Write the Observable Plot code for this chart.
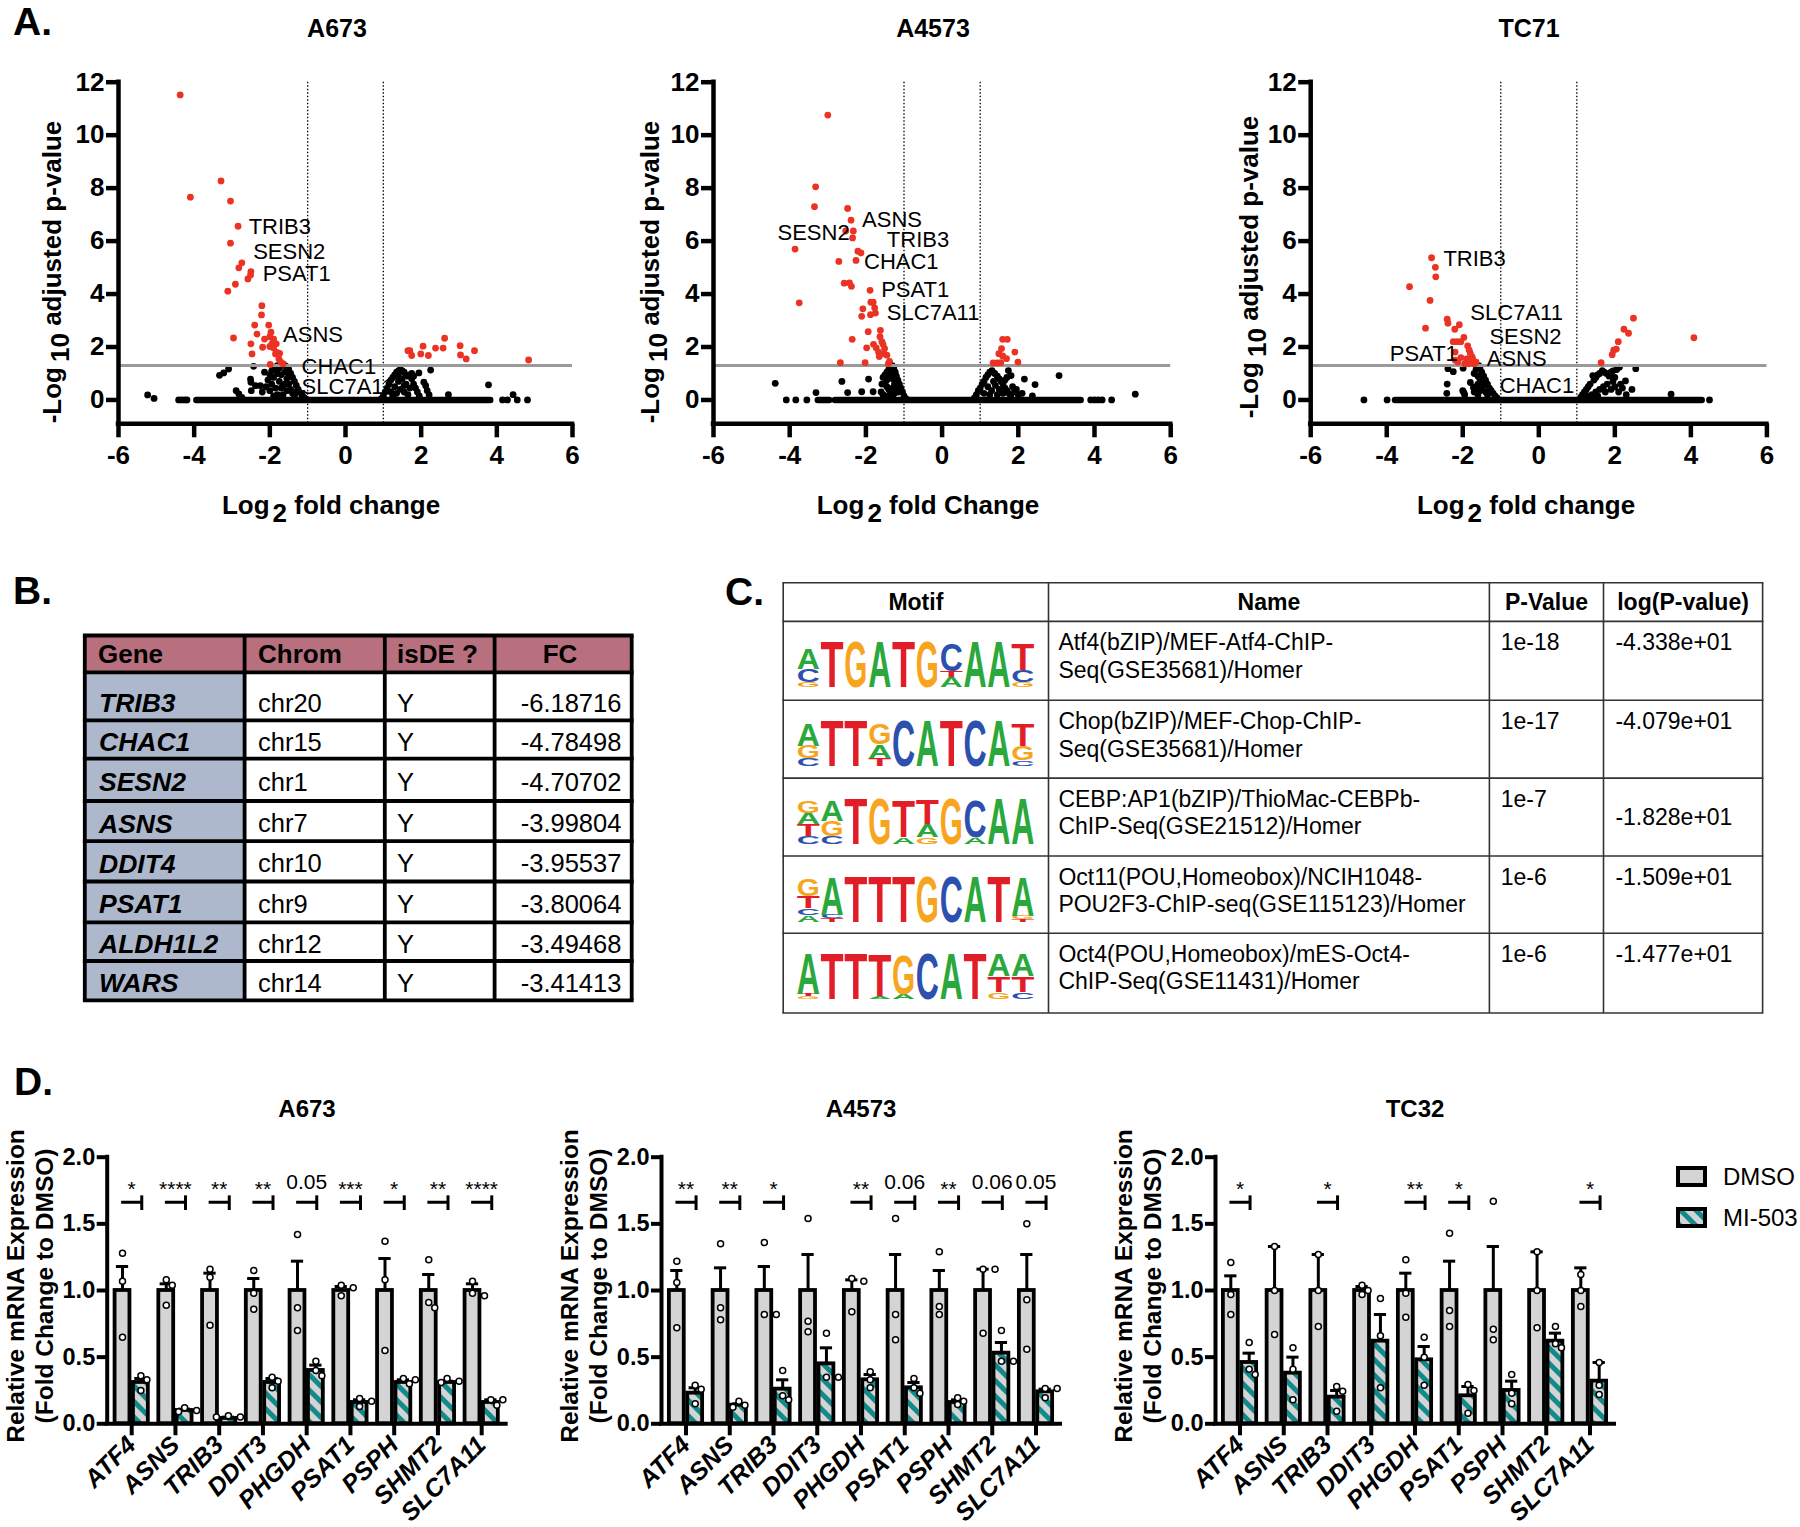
<!DOCTYPE html>
<html><head><meta charset="utf-8">
<script src="https://cdn.jsdelivr.net/npm/d3@7"></script>
<script src="https://cdn.jsdelivr.net/npm/@observablehq/plot@0.6"></script>
<style>
html,body{margin:0;padding:0;background:#fff;}
body{width:1800px;height:1527px;position:relative;overflow:hidden;font-family:'Liberation Sans',Arial,Helvetica,sans-serif;}
</style></head><body>
<svg width="0" height="0" style="position:absolute"><defs>
<pattern id="hatch" patternUnits="userSpaceOnUse" width="11" height="11" patternTransform="rotate(-45)"><rect width="11" height="11" fill="#d4d4d4"/><rect width="5" height="11" fill="#12898b"/></pattern>
</defs></svg>
<script>
// ================= DATA =================
// Panel A volcano plots: [log2FC, -log10 adj p]
const a673Red = [[-4.37,11.52],[-3.29,8.27],[-4.10,7.66],[-3.04,7.51],[-2.84,6.56],[-3.04,5.92],[-2.74,5.18],[-2.82,4.99],[-2.50,4.85],[-2.51,4.72],[-2.58,4.57],[-2.91,4.37],[-3.11,4.11],[-2.21,3.56],[-2.22,3.21],[-2.40,2.83],[-2.03,2.83],[-2.34,2.49],[-1.97,2.56],[-2.96,2.34],[-2.00,2.39],[-2.14,2.30],[-1.90,2.30],[-1.94,2.14],[-1.83,2.12],[-2.50,2.12],[-2.19,1.99],[-2.00,2.02],[-1.90,1.96],[-1.81,1.80],[-2.47,1.74],[-1.74,1.76],[-1.85,1.74],[-1.76,1.55],[-1.70,1.42],[-1.99,1.34],[-1.65,1.36],
 [1.70,1.86],[1.65,1.86],[1.75,1.68],[2.05,2.03],[1.99,1.74],[2.19,1.68],[2.38,1.96],[2.58,1.96],[2.62,2.33],[3.03,2.05],[3.04,1.70],[3.19,1.55],[3.41,1.86],[4.84,1.51]];
const a673Black = [[-5.23,0.19],[-5.06,0.06],[-4.41,0],[-4.33,0],[-4.25,0],[-4.19,0],
 [-3.33,0.93],[-3.22,1.02],[-3.09,1.17],[-2.43,1.27],[-2.51,0.79],[-2.50,0.67],[-2.89,0.35],[-2.82,0.23],[-2.74,0.10],[-2.49,0.35],[-2.38,0.54],[-2.25,0.54],[-2.14,1.05],
 [-2.2,0.3],[-2.1,0.5],[-2.05,0.75],[-2.0,0.95],[-1.95,1.1],[-1.9,1.2],[-1.85,1.25],[-1.8,1.3],[-1.75,1.2],[-1.7,1.3],[-1.65,1.35],[-1.6,1.3],[-1.55,1.25],[-1.5,1.15],[-1.45,1.0],[-1.4,0.85],[-1.35,0.7],[-1.3,0.55],[-1.25,0.4],[-1.2,0.28],[-1.15,0.18],[-1.1,0.1],[-1.05,0.04],
 [-2.0,0.35],[-1.95,0.6],[-1.9,0.85],[-1.85,0.45],[-1.8,1.0],[-1.75,0.7],[-1.7,0.95],[-1.65,0.55],[-1.6,1.05],[-1.55,0.8],[-1.5,0.6],[-1.45,0.4],[-1.4,0.25],[-1.55,0.35],[-1.65,0.2],[-1.8,0.2],[-1.9,0.15],[-1.35,0.15],[-1.7,0.45],[-1.6,0.6],[-1.5,0.9],[-1.3,0.3],
 [0.95,0.05],[1.0,0.15],[1.05,0.3],[1.1,0.45],[1.15,0.6],[1.2,0.75],[1.25,0.85],[1.3,0.95],[1.35,1.05],[1.4,1.1],[1.45,1.15],[1.5,1.1],[1.55,1.05],[1.6,0.95],[1.65,0.9],[1.7,0.95],[1.75,0.8],[1.8,0.6],[1.85,0.45],[1.9,0.3],[1.95,0.15],
 [1.2,0.3],[1.3,0.5],[1.4,0.7],[1.5,0.8],[1.6,0.6],[1.45,0.4],[1.35,0.25],[1.55,0.3],[1.7,0.45],[1.25,0.15],[1.65,0.2],[1.4,0.9],[1.55,0.55],[1.75,1.0],[1.8,0.9],
 [1.94,1.02],[2.25,1.13],[2.07,0.67],[2.12,0.54],[2.16,0.35],[2.21,0.19],[2.72,0.2],[3.78,0.57],[4.15,0],[4.28,0],[4.43,0.2],[4.54,0],[4.81,0]];
const a673Band = [[-3.93,3.84]];
const a673Labels = [["TRIB3",-2.56,6.55],["SESN2",-2.44,5.58],["PSAT1",-2.19,4.76],["ASNS",-1.65,2.47],["CHAC1",-1.16,1.26],["SLC7A11",-1.16,0.50]];

const a4573Red = [[-3.00,10.76],[-3.32,8.05],[-3.35,7.30],[-2.48,7.23],[-2.39,6.79],[-2.33,6.38],[-2.53,6.38],[-2.35,6.12],[-3.86,5.70],[-2.21,5.62],[-2.13,5.55],[-2.71,5.23],[-2.26,5.27],[-2.57,4.41],[-2.43,4.42],[-2.38,4.29],[-1.89,4.14],[-3.75,3.67],[-1.87,3.69],[-1.81,3.69],[-2.08,3.44],[-1.77,3.48],[-1.88,3.22],[-2.11,3.16],[-1.75,3.28],[-1.62,2.63],[-1.94,2.58],[-1.63,2.39],[-2.36,2.29],[-1.58,2.20],[-1.55,2.10],[-1.80,2.10],[-1.98,1.97],[-1.73,1.97],[-1.51,1.94],[-1.67,1.81],[-1.53,1.75],[-1.65,1.64],[-1.45,1.69],[-1.38,1.46],[-2.67,1.41],[-2.02,1.41],[-1.41,1.37],
 [1.59,2.29],[1.71,2.29],[1.56,1.94],[1.49,1.75],[1.59,1.66],[1.91,1.81],[1.69,1.56],[1.99,1.43],[1.34,1.40],[1.44,1.40],[1.54,1.41]];
const a4573Black = [[-4.38,0.63],[-4.09,0],[-3.84,0],[-3.55,0],[-3.31,0.28],[-2.63,0.70],[-2.48,0.28],[-2.11,0.31],[-1.93,0.79],[-1.81,0.31],
 [-1.6,0.3],[-1.58,0.6],[-1.55,0.85],[-1.5,0.95],[-1.45,1.05],[-1.4,1.15],[-1.35,1.25],[-1.31,1.3],[-1.27,1.2],[-1.23,1.05],[-1.2,0.9],[-1.16,0.75],[-1.12,0.6],[-1.08,0.45],[-1.04,0.3],[-1.0,0.15],[-0.95,0.05],
 [-1.5,0.6],[-1.45,0.75],[-1.4,0.9],[-1.35,1.0],[-1.3,0.8],[-1.25,0.6],[-1.3,0.45],[-1.35,0.3],[-1.4,0.4],[-1.45,0.5],[-1.55,0.2],[-1.5,0.15],[-1.2,0.45],[-1.15,0.3],[-1.25,0.25],[-1.3,0.15],[-1.4,0.15],
 [0.85,0.08],[0.9,0.2],[0.95,0.35],[1.0,0.45],[1.05,0.6],[1.1,0.7],[1.15,0.85],[1.2,0.95],[1.25,1.05],[1.31,1.11],[1.38,1.0],[1.45,0.9],[1.5,0.8],[1.55,0.7],[1.6,0.6],[1.65,0.45],[1.7,0.35],[1.75,0.25],[1.8,0.15],
 [1.74,1.11],[1.81,0.92],[1.7,0.85],[1.65,0.75],[1.2,0.5],[1.3,0.35],[1.4,0.55],[1.5,0.4],[1.1,0.25],[1.35,0.7],[1.9,0.3],[2.0,0.2],[2.1,0.25],[1.85,0.5],[1.95,0.4],[1.25,0.2],[1.45,0.2],[1.6,0.25],
 [2.16,0.79],[2.44,0.58],[3.07,0.92],[2.37,0.15],[3.9,0],[4.0,0],[4.1,0],[4.2,0],[4.45,0],[5.07,0.22]];
const a4573Band = [[-3.25,-2.95],[-2.8,3.65]];
const a4573Labels = [["SESN2",-4.32,6.29],["ASNS",-2.10,6.80],["TRIB3",-1.45,6.06],["CHAC1",-2.05,5.20],["PSAT1",-1.60,4.14],["SLC7A11",-1.45,3.28]];

const tc71Red = [[-2.82,5.37],[-2.72,5.01],[-2.71,4.65],[-3.40,4.28],[-2.86,3.76],[-2.41,3.05],[-2.39,2.90],[-2.98,2.71],[-2.09,2.84],[-2.21,2.67],[-1.97,2.36],[-2.05,2.20],[-2.25,2.20],[-2.15,2.20],[-1.87,2.04],[-1.83,1.88],[-2.2,1.81],[-2.2,1.5],[-2.13,1.43],[-1.8,1.75],[-1.75,1.62],[-1.73,1.5],[-1.85,1.37],[-1.95,1.37],[-1.7,1.37],[-1.65,1.43],[-2.05,1.6],[-1.9,1.55],
 [1.64,1.41],[1.93,1.71],[1.97,1.88],[2.04,1.92],[2.09,2.20],[2.24,2.67],[2.36,2.52],[2.49,3.09],[4.08,2.35]];
const tc71Black = [[-4.6,0],[-3.99,0],[-2.41,0.60],[-2.39,1.18],[-2.25,1.07],[-1.99,1.20],[-1.80,0.66],[-1.97,0.28],[-1.95,0.2],[-1.72,0.47],[-2.42,0.25],[-2.0,0.35],
 [-1.7,1.0],[-1.65,1.15],[-1.6,1.25],[-1.58,1.3],[-1.55,1.2],[-1.5,1.05],[-1.45,0.9],[-1.4,0.75],[-1.35,0.6],[-1.3,0.45],[-1.25,0.35],[-1.2,0.25],[-1.15,0.15],[-1.1,0.08],[-1.6,0.9],[-1.55,0.8],[-1.5,0.7],[-1.45,0.55],[-1.5,0.4],[-1.4,0.3],[-1.35,0.2],[-1.6,0.6],[-1.55,0.35],[-1.65,0.5],[-1.6,0.2],[-1.7,0.3],
 [1.1,0.1],[1.15,0.2],[1.2,0.3],[1.25,0.4],[1.3,0.5],[1.35,0.6],[1.42,0.92],[1.45,0.75],[1.5,0.85],[1.55,0.95],[1.6,1.0],[1.67,1.11],[1.72,1.05],[1.78,1.0],[1.85,0.9],[1.9,1.05],[1.95,1.1],[2.05,1.15],[2.12,1.24],[2.0,0.85],[1.95,0.7],[1.8,0.6],[1.7,0.5],[1.6,0.4],[1.5,0.3],[1.4,0.2],[1.75,0.3],[1.9,0.4],[2.0,0.5],[2.1,0.3],[2.2,0.45],[2.28,0.72],[2.15,0.6],[2.55,1.18],[2.3,0.2],[2.45,0.4],[1.3,0.15],[1.55,0.15],
 [3.48,0.22],[4.49,0]];
const tc71Band = [[-3.77,4.3]];
const tc71Labels = [["TRIB3",-2.51,5.33],["SLC7A11",-1.80,3.28],["SESN2",-1.30,2.39],["PSAT1",-3.92,1.75],["ASNS",-1.37,1.56],["CHAC1",-1.03,0.54]];

const volcanoTitles = ["A673","A4573","TC71"];
const volcanoXLabels = [" fold change"," fold Change"," fold change"];
const volcanoXTicks = [-6,-4,-2,0,2,4,6];
const volcanoYTicks = [0,2,4,6,8,10,12];

// Panel B table
const bHeader = ["Gene","Chrom","isDE ?","FC"];
const bGenes = ["TRIB3","CHAC1","SESN2","ASNS","DDIT4","PSAT1","ALDH1L2","WARS"];
const bChrom = ["chr20","chr15","chr1","chr7","chr10","chr9","chr12","chr14"];
const bIsDE = ["Y","Y","Y","Y","Y","Y","Y","Y"];
const bFC = ["-6.18716","-4.78498","-4.70702","-3.99804","-3.95537","-3.80064","-3.49468","-3.41413"];

// Panel C table
const cHeader = ["Motif","Name","P-Value","log(P-value)"];
const cNames = [["Atf4(bZIP)/MEF-Atf4-ChIP-","Seq(GSE35681)/Homer"],["Chop(bZIP)/MEF-Chop-ChIP-","Seq(GSE35681)/Homer"],["CEBP:AP1(bZIP)/ThioMac-CEBPb-","ChIP-Seq(GSE21512)/Homer"],["Oct11(POU,Homeobox)/NCIH1048-","POU2F3-ChIP-seq(GSE115123)/Homer"],["Oct4(POU,Homeobox)/mES-Oct4-","ChIP-Seq(GSE11431)/Homer"]];
const cPval = ["1e-18","1e-17","1e-7","1e-6","1e-6"];
const cLogP = ["-4.338e+01","-4.079e+01","-1.828e+01","-1.509e+01","-1.477e+01"];
// motif logos: per position, letters bottom->top with information (bits)
const motifs = [
 [[["G",0.22],["C",0.58],["A",0.94]],[["T",2]],[["G",2]],[["A",2]],[["T",2]],[["G",2]],[["A",0.43],["T",0.26],["C",1.23]],[["A",2]],[["A",2]],[["G",0.22],["C",0.5],["T",1.13]]],
 [[["C",0.33],["G",0.55],["A",0.97]],[["T",2]],[["T",2]],[["T",0.36],["A",0.6],["G",0.9]],[["C",2]],[["A",2]],[["T",2]],[["C",2]],[["A",2]],[["C",0.25],["G",0.63],["T",0.97]]],
 [[["C",0.34],["T",0.52],["A",0.49],["G",0.54]],[["C",0.34],["G",0.66],["A",0.92]],[["T",2]],[["G",2]],[["A",0.3],["T",1.6]],[["G",0.3],["A",0.55],["T",1.1]],[["G",2]],[["A",0.3],["C",1.6]],[["A",2]],[["A",2]]],
 [[["A",0.3],["C",0.3],["T",0.5],["G",0.75]],[["T",0.15],["C",0.15],["A",1.65]],[["T",2]],[["T",2]],[["T",2]],[["G",2]],[["C",2]],[["A",2]],[["T",2]],[["T",0.1],["G",0.15],["A",1.7]]],
 [[["G",0.1],["T",0.1],["A",1.8]],[["T",2]],[["T",2]],[["A",0.1],["T",1.85]],[["A",0.2],["G",1.75]],[["C",2]],[["A",2]],[["T",2]],[["G",0.3],["T",0.7],["A",0.95]],[["C",0.3],["T",0.7],["A",0.95]]]
];
const letterColors = {A:"#2aa83c", C:"#2d50af", G:"#f7a51e", T:"#e11e28"};

// Panel D bar charts (DMSO normalised to 1.0)
const genes = ["ATF4","ASNS","TRIB3","DDIT3","PHGDH","PSAT1","PSPH","SHMT2","SLC7A11"];
const dmsoMean = [1,1,1,1,1,1,1,1,1];
const a673DmsoSem = [0.18,0.05,0.13,0.09,0.22,0.03,0.24,0.12,0.05];
const a673MiMean = [0.31,0.10,0.04,0.31,0.40,0.16,0.31,0.31,0.16];
const a673MiSem = [0.03,0.01,0.01,0.03,0.04,0.02,0.02,0.01,0.02];
const a673DmsoDots = [[1.28,1.07,0.65],[1.08,1.04,0.89],[1.16,1.10,0.74],[1.15,0.98,0.86],[1.42,0.87,0.70],[1.04,1.02,0.96],[1.37,1.08,0.55],[1.23,0.91,0.87],[1.07,0.98,0.96]];
const a673MiDots = [[0.36,0.33,0.25],[0.12,0.10,0.09],[0.06,0.05,0.05],[0.35,0.32,0.27],[0.47,0.40,0.36],[0.19,0.17,0.13],[0.34,0.33,0.30],[0.34,0.32,0.31],[0.18,0.18,0.14]];
const a673Sig = ["*","****","**","**","0.05","***","*","**","****"];

const a4573DmsoSem = [0.15,0.17,0.18,0.27,0.08,0.27,0.15,0.16,0.27];
const a4573MiMean = [0.23,0.14,0.26,0.45,0.33,0.27,0.16,0.53,0.24];
const a4573MiSem = [0.04,0.01,0.07,0.12,0.04,0.04,0.02,0.08,0.02];
const a4573DmsoDots = [[1.22,1.06,0.72],[1.35,0.87,0.78],[1.36,0.82,0.82],[1.54,0.77,0.69],[1.09,1.07,0.84],[1.54,0.82,0.63],[1.29,0.88,0.82],[1.16,1.16,0.68],[1.50,0.93,0.56]];
const a4573MiDots = [[0.29,0.26,0.15],[0.17,0.14,0.125],[0.40,0.21,0.18],[0.68,0.35,0.35],[0.39,0.33,0.27],[0.34,0.27,0.23],[0.195,0.17,0.145],[0.70,0.47,0.47],[0.265,0.265,0.195]];
const a4573Sig = ["**","**","*","","**","0.06","**","0.06","0.05"];

const tc32DmsoSem = [0.11,0.33,0.27,0.03,0.13,0.22,0.33,0.29,0.17];
const tc32MiMean = [0.46,0.38,0.20,0.62,0.48,0.21,0.25,0.62,0.32];
const tc32MiSem = [0.07,0.12,0.05,0.20,0.10,0.07,0.07,0.06,0.14];
const tc32DmsoDots = [[1.21,0.97,0.82],[1.33,0.67,1.0],[1.27,0.73,1.0],[1.04,1.0,0.97],[1.23,0.98,0.80],[1.43,0.85,0.73],[1.67,0.71,0.63],[1.29,0.72,1.0],[1.12,0.88,1.0]];
const tc32MiDots = [[0.61,0.41,0.37],[0.57,0.41,0.18],[0.28,0.245,0.095],[0.94,0.66,0.27],[0.65,0.50,0.29],[0.295,0.25,0.08],[0.37,0.23,0.15],[0.73,0.60,0.57],[0.46,0.29,0.22]];
const tc32Sig = ["*","","*","","**","*","","","*"];

const barTitles = ["A673","A4573","TC32"];
const barYTicks = [0,0.5,1,1.5,2];
const legendLabels = ["DMSO","MI-503"];

// ================= DRAWING =================
const FONT = "'Liberation Sans', Arial, Helvetica, sans-serif";
const baseStyle = {fontFamily: FONT, background: "transparent", overflow: "visible", color: "#000"};

function place(node, left, top, w) {
  const d = document.createElement("div");
  d.style.cssText = `position:absolute;left:${left}px;top:${top}px;width:${w}px;`;
  d.appendChild(node);
  document.body.appendChild(d);
}

function volcano({red, black, band, labels, ml, mr}) {
  return Plot.plot({
    width: 600, height: 520, marginLeft: ml, marginRight: mr, marginTop: 81.7, marginBottom: 96.7,
    x: {domain: [-6, 6]}, y: {domain: [-0.9, 12]},
    style: baseStyle,
    marks: [
      Plot.ruleX([-1, 1], {stroke: "#000", strokeWidth: 1.3, strokeDasharray: "1.5,2"}),
      Plot.ruleY(band, {x1: d => d[0], x2: d => d[1], y: () => 0, stroke: "#000", strokeWidth: 6.4, strokeLinecap: "round"}),
      Plot.dot(black, {x: d => d[0], y: d => d[1], r: 3.4, fill: "#000"}),
      Plot.ruleY([1.3], {stroke: "#9a9a9a", strokeWidth: 3}),
      Plot.dot(red, {x: d => d[0], y: d => d[1], r: 3.4, fill: "#eb3324"}),
      Plot.text(labels, {x: d => d[1], y: d => d[2], text: d => d[0], textAnchor: "start", lineAnchor: "middle", fontSize: 22, fill: "#000"}),
      Plot.ruleY([-0.9], {stroke: "#000", strokeWidth: 4.5, strokeLinecap: "square"}),
      Plot.ruleX([-6], {stroke: "#000", strokeWidth: 4.5, strokeLinecap: "square"}),
      Plot.axisX({ticks: volcanoXTicks, tickFormat: d => String(d), tickSize: 14, tickPadding: 8, fontSize: 26, fontWeight: "bold", strokeWidth: 4.5, label: null}),
      Plot.axisY({ticks: volcanoYTicks, tickFormat: d => String(d), tickSize: 12, tickPadding: 2, fontSize: 26, fontWeight: "bold", strokeWidth: 4.5, label: null})
    ]
  });
}

place(volcano({red: a673Red, black: a673Black, band: a673Band, labels: a673Labels, ml: 118, mr: 28}), 0, 0, 600);
place(volcano({red: a4573Red, black: a4573Black, band: a4573Band, labels: a4573Labels, ml: 113, mr: 29.8}), 600, 0, 600);
place(volcano({red: tc71Red, black: tc71Black, band: tc71Band, labels: tc71Labels, ml: 110.2, mr: 33.6}), 1200, 0, 600);

function spread(vals, center) {
  const pyu = 133.3, pxu = 43.8, r = 3.3;
  const placed = [];
  return vals.map(v => {
    for (const off of [0, 6, -6, 12, -12]) {
      if (placed.every(p => Math.hypot(p.off - off, (p.v - v) * pyu) >= 2 * r)) {
        placed.push({off, v});
        return {x: center + off / pxu, y: v};
      }
    }
    return {x: center, y: v};
  });
}

function bars({left, axisX, dmsoSem, miMean, miSem, dmsoDots, miDots, sig}) {
  const inner = 399, ml = axisX - left, mr = 30;
  const rows = genes.map((g, i) => ({g, c: i + 0.5, dm: dmsoMean[i], ds: dmsoSem[i], mm: miMean[i], ms: miSem[i], s: sig[i]}));
  const dots = [];
  rows.forEach((r, i) => {
    spread(dmsoDots[i], r.c - 0.21).forEach(p => dots.push(p));
    spread(miDots[i], r.c + 0.21).forEach(p => dots.push(p));
  });
  const sigRows = rows.filter(r => r.s);
  const stars = sigRows.filter(r => r.s.startsWith("*"));
  const nums = sigRows.filter(r => !r.s.startsWith("*"));
  return Plot.plot({
    width: ml + inner + mr, height: 427, marginLeft: ml, marginRight: mr, marginTop: 56.7, marginBottom: 103.7,
    x: {domain: [-0.06, 9.06]}, y: {domain: [0, 2]},
    style: baseStyle,
    marks: [
      Plot.rect(rows, {x1: r => r.c - 0.38, x2: r => r.c - 0.04, y1: () => 0, y2: r => r.dm, fill: "#d4d4d4", stroke: "#000", strokeWidth: 3.8}),
      Plot.rect(rows, {x1: r => r.c + 0.04, x2: r => r.c + 0.38, y1: () => 0, y2: r => r.mm, fill: "url(#hatch)", stroke: "#000", strokeWidth: 3.8}),
      Plot.ruleX(rows, {x: r => r.c - 0.21, y1: r => r.dm, y2: r => r.dm + r.ds, stroke: "#000", strokeWidth: 3}),
      Plot.ruleY(rows, {x1: r => r.c - 0.35, x2: r => r.c - 0.07, y: r => r.dm + r.ds, stroke: "#000", strokeWidth: 3}),
      Plot.ruleX(rows, {x: r => r.c + 0.21, y1: r => r.mm, y2: r => r.mm + r.ms, stroke: "#000", strokeWidth: 3}),
      Plot.ruleY(rows, {x1: r => r.c + 0.07, x2: r => r.c + 0.35, y: r => r.mm + r.ms, stroke: "#000", strokeWidth: 3}),
      Plot.dot(dots, {x: "x", y: "y", r: 3, fill: "#fff", stroke: "#000", strokeWidth: 1.5}),
      Plot.ruleY(sigRows, {x1: r => r.c - 0.23, x2: r => r.c + 0.23, y: () => 1.662, stroke: "#000", strokeWidth: 3}),
      Plot.ruleX(sigRows, {x: r => r.c + 0.23, y1: () => 1.60, y2: () => 1.71, stroke: "#000", strokeWidth: 3}),
      Plot.text(stars, {x: r => r.c, y: () => 1.712, text: r => r.s, lineAnchor: "bottom", fontSize: 21, fill: "#000"}),
      Plot.text(nums, {x: r => r.c, y: () => 1.81, text: r => r.s, lineAnchor: "middle", fontSize: 21, fill: "#000"}),
      Plot.ruleY([0], {stroke: "#000", strokeWidth: 4, strokeLinecap: "square"}),
      Plot.ruleX([-0.06], {stroke: "#000", strokeWidth: 4, strokeLinecap: "square"}),
      Plot.axisY({ticks: barYTicks, tickFormat: d3.format(".1f"), tickSize: 10, tickPadding: 2, fontSize: 23.5, fontWeight: "bold", strokeWidth: 4, label: null}),
      Plot.axisX({ticks: genes.map((g, i) => i + 0.5), tickFormat: d => genes[Math.round(d - 0.5)], tickSize: 12, tickPadding: 5, tickRotate: -45, fontSize: 25, fontWeight: "bold", fontStyle: "italic", strokeWidth: 4, label: null})
    ]
  });
}

place(bars({left: 0, axisX: 106.7, dmsoSem: a673DmsoSem, miMean: a673MiMean, miSem: a673MiSem, dmsoDots: a673DmsoDots, miDots: a673MiDots, sig: a673Sig}), 0, 1100, 540);
place(bars({left: 540, axisX: 661, dmsoSem: a4573DmsoSem, miMean: a4573MiMean, miSem: a4573MiSem, dmsoDots: a4573DmsoDots, miDots: a4573MiDots, sig: a4573Sig}), 540, 1100, 550);
place(bars({left: 1080, axisX: 1215, dmsoSem: tc32DmsoSem, miMean: tc32MiMean, miSem: tc32MiSem, dmsoDots: tc32DmsoDots, miDots: tc32MiDots, sig: tc32Sig}), 1080, 1100, 564);

// ---------- overlay: labels, tables, legend ----------
const ov = d3.select("body").append("svg").attr("width", 1800).attr("height", 1527)
  .style("position", "absolute").style("left", "0px").style("top", "0px").style("z-index", 5)
  .style("pointer-events", "none").style("font-family", FONT);

function T(x, y, s, o = {}) {
  return ov.append("text").attr("x", x).attr("y", y).text(s)
    .attr("font-size", o.size || 24).attr("font-weight", o.weight || "normal")
    .attr("font-style", o.style || "normal").attr("text-anchor", o.anchor || "start").attr("fill", o.fill || "#000");
}
function rich(x, y, parts, o = {}) {
  const g = ov.append("g").attr("transform", `translate(${x},${y})` + (o.rotate ? ` rotate(${o.rotate})` : ""));
  const t = g.append("text").attr("font-size", o.size || 24).attr("font-weight", o.weight || "bold").attr("text-anchor", o.anchor || "middle");
  parts.forEach(p => {
    const s = t.append("tspan").text(p.t);
    if (p.dx) s.attr("dx", p.dx);
    if (p.dy) s.attr("dy", p.dy);
  });
}

// panel letters
[["A.", 13, 35], ["B.", 13, 604], ["C.", 725, 605], ["D.", 14, 1095]].forEach(([s, x, y]) => T(x, y, s, {size: 39, weight: "bold"}));

// volcano titles & axis labels
const vTitleX = [337, 933, 1529], vXLabX = [331, 928, 1526], vYLabX = [61, 659, 1258], vYLabY = [272, 272, 267];
volcanoTitles.forEach((t, i) => {
  T(vTitleX[i], 37, t, {size: 25, weight: "bold", anchor: "middle"});
  rich(vXLabX[i], 514, [{t: "Log"}, {t: "2", dx: 3, dy: "0.3em"}, {t: volcanoXLabels[i], dy: "-0.3em"}], {size: 26});
  rich(vYLabX[i], vYLabY[i], [{t: "-Log"}, {t: "10", dx: 5, dy: "0.3em"}, {t: " adjusted p-value", dy: "-0.3em"}], {size: 26, rotate: -90});
});

// bar chart titles & y labels
const bTitleX = [307, 861, 1415], bAxisX = [106.7, 661, 1215];
barTitles.forEach((t, i) => {
  T(bTitleX[i], 1117, t, {size: 24, weight: "bold", anchor: "middle"});
  rich(bAxisX[i] - 83, 1286, [{t: "Relative mRNA Expression"}], {size: 24.5, rotate: -90});
  rich(bAxisX[i] - 54, 1286, [{t: "(Fold Change to DMSO)"}], {size: 24.5, rotate: -90});
});

// legend
[[1168, "#d4d4d4"], [1209, "url(#hatch)"]].forEach(([y, f], i) => {
  ov.append("rect").attr("x", 1678).attr("y", y).attr("width", 27).attr("height", 17).attr("fill", f).attr("stroke", "#000").attr("stroke-width", 4);
  T(1723, y + 8.5 + 8.8, legendLabels[i], {size: 24});
});

// ---- Table B ----
const bx = [84.8, 244.6, 384.8, 494.6, 631.7];
const by = [635.5, 672.4, 720.4, 758.7, 801, 841.2, 881.5, 922.4, 961, 1000.3];
ov.append("rect").attr("x", bx[0]).attr("y", by[0]).attr("width", bx[4] - bx[0]).attr("height", by[1] - by[0]).attr("fill", "#b8707f");
ov.append("rect").attr("x", bx[0]).attr("y", by[1]).attr("width", bx[1] - bx[0]).attr("height", by[9] - by[1]).attr("fill", "#adb8cc");
by.forEach(y => ov.append("line").attr("x1", bx[0] - 1.9).attr("x2", bx[4] + 1.9).attr("y1", y).attr("y2", y).attr("stroke", "#000").attr("stroke-width", 3.8));
bx.forEach(x => ov.append("line").attr("x1", x).attr("x2", x).attr("y1", by[0]).attr("y2", by[9]).attr("stroke", "#000").attr("stroke-width", 3.8));
const hb = 654 + 0.358 * 26;
T(98, hb, bHeader[0], {size: 26, weight: "bold"});
T(258, hb, bHeader[1], {size: 26, weight: "bold"});
T(397, hb, bHeader[2], {size: 26, weight: "bold"});
T(560, hb, bHeader[3], {size: 26, weight: "bold", anchor: "middle"});
bGenes.forEach((g, i) => {
  const cyv = (by[i + 1] + by[i + 2]) / 2 + (i === 0 ? 6 : 2);
  T(99, cyv + 0.358 * 26.5, g, {size: 26.5, weight: "bold", style: "italic"});
  T(258, cyv + 0.358 * 25.5, bChrom[i], {size: 25.5});
  T(397, cyv + 0.358 * 25.5, bIsDE[i], {size: 25.5});
  T(621.4, cyv + 0.358 * 25.5, bFC[i], {size: 25.5, anchor: "end"});
});

// ---- Table C ----
const cxs = [783.2, 1048.5, 1489.4, 1603.5, 1762.6];
const cys = [582.8, 621.4, 700.3, 778.1, 856, 933.2, 1013];
cys.forEach(y => ov.append("line").attr("x1", cxs[0] - 0.8).attr("x2", cxs[4] + 0.8).attr("y1", y).attr("y2", y).attr("stroke", "#333").attr("stroke-width", 1.6));
cxs.forEach(x => ov.append("line").attr("x1", x).attr("x2", x).attr("y1", cys[0]).attr("y2", cys[6]).attr("stroke", "#333").attr("stroke-width", 1.6));
cHeader.forEach((h, j) => T((cxs[j] + cxs[j + 1]) / 2, 602 + 0.358 * 23, h, {size: 23, weight: "bold", anchor: "middle"}));
cNames.forEach((lines, i) => {
  const top = cys[i + 1];
  T(1058.4, top + 20.5 + 8.2, lines[0], {size: 23});
  T(1058.4, top + 48 + 8.2, lines[1], {size: 23});
  T(1500.7, top + 20.5 + 8.2, cPval[i], {size: 23});
  const ly = i === 2 ? (cys[i + 1] + cys[i + 2]) / 2 : top + 20.5;
  T(1615.4, ly + 8.2, cLogP[i], {size: 23});
});
// motif logos (letters stretched to their information content)
const logoLeft = 796.7, logoW = 238.3, pxPerBit = 23, LF = 32;
motifs.forEach((m, i) => {
  const bottom = cys[i + 1] + 19.5 + 2 * pxPerBit;
  const cw = logoW / m.length;
  m.forEach((pos, p) => {
    let yb = bottom;
    pos.forEach(([L, h]) => {
      const hp = h * pxPerBit;
      const g = ov.append("g").attr("transform", `translate(${logoLeft + p * cw},${yb}) scale(1,${hp / (0.716 * LF)})`);
      g.append("text").attr("x", 0).attr("y", 0).attr("font-size", LF).attr("font-weight", "bold")
        .attr("textLength", cw * 0.97).attr("lengthAdjust", "spacingAndGlyphs").attr("fill", letterColors[L]).text(L);
      yb -= hp;
    });
  });
});
</script>
</body></html>
